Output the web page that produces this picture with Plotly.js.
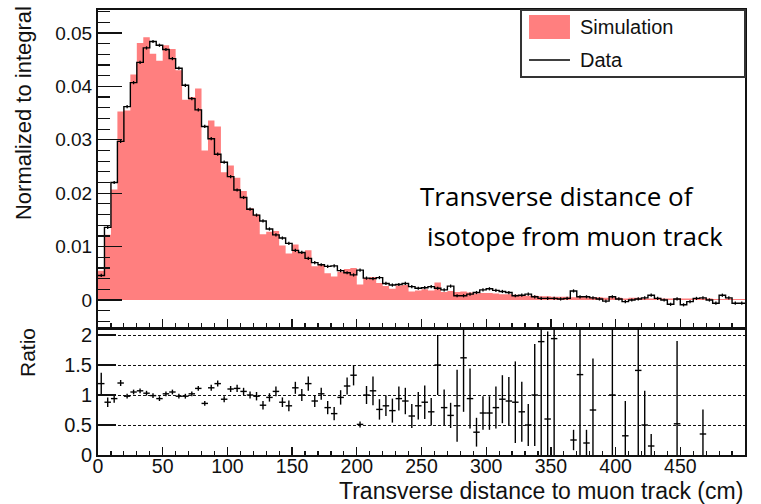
<!DOCTYPE html>
<html>
<head>
<meta charset="utf-8">
<script src="https://cdn.plot.ly/plotly-3.0.1.min.js"></script>
<style>
  html, body { margin: 0; padding: 0; background: #fff; }
  #chart { width: 761px; height: 504px; }
</style>
</head>
<body>
<div id="chart"></div>
<script>
// ---- data (5 cm bins from 0 to 500 cm) ----
const BIN_WIDTH = 5;

const simulation = [
  0.0055, 0.0122, 0.0207, 0.0353, 0.0355, 0.0422, 0.0481, 0.0492, 0.0461, 0.0448,
  0.0477, 0.0470, 0.0430, 0.0375, 0.0380, 0.0396, 0.0280, 0.0336, 0.0325, 0.0239,
  0.0252, 0.0229, 0.0204, 0.0172, 0.0160, 0.0123, 0.0128, 0.0129, 0.0102, 0.0087,
  0.0104, 0.0089, 0.0093, 0.0063, 0.0067, 0.0050, 0.0044, 0.0053, 0.0058, 0.0060,
  0.0029, 0.0041, 0.0043, 0.0032, 0.0026, 0.0021, 0.0027, 0.0028, 0.0016, 0.0018,
  0.0020, 0.0018, 0.0033, 0.0015, 0.0017, 0.0015, 0.0016, 0.0014, 0.0012, 0.0013,
  0.0013, 0.0012, 0.0011, 0.0011, 0.0010, 0.0009, 0.0008, 0.0008, 0.0007, 0.0007,
  0.0006, 0.0006, 0.0006, 0.0005, 0.0006, 0.0005, 0.0005, 0.0005, 0.0004, 0.0005,
  0.0004, 0.0003, 0.0004, 0.0004, 0.0003, 0.0003, 0.0004, 0.0003, 0.0003, 0.0003,
  0.0003, 0.0003, 0.0002, 0.0003, 0.0003, 0.0002, 0.0002, 0.0003, 0.0002, 0.0002
];

const dataValues = [
  0.0046, 0.0136, 0.0220, 0.0297, 0.0362, 0.0407, 0.0445, 0.0472, 0.0484, 0.0477,
  0.0469, 0.0452, 0.0434, 0.0402, 0.0377, 0.0356, 0.0325, 0.0302, 0.0273, 0.0258,
  0.0231, 0.0206, 0.0192, 0.0170, 0.0159, 0.0148, 0.0133, 0.0122, 0.0116, 0.0106,
  0.0093, 0.0089, 0.0078, 0.0070, 0.0066, 0.0063, 0.0064, 0.0055, 0.0051, 0.0047,
  0.0056, 0.0041, 0.0040, 0.0042, 0.0031, 0.0028, 0.0029, 0.0031, 0.0025, 0.0022,
  0.0023, 0.0025, 0.0022, 0.0019, 0.0026, 0.0008, 0.0008, 0.0011, 0.0014, 0.0019,
  0.0021, 0.0018, 0.0016, 0.0014, 0.0008, 0.0009, 0.0011, 0.0006, 0.0003, 0.0003,
  0.0003, 0.0002, 0.0003, 0.0017, 0.0006, 0.0006, 0.0004, 0.0002, -0.0002, 0.0006,
  0.0002, -0.0003, 0.0000, 0.0002, 0.0004, 0.0009, 0.0003, 0.0000, -0.0008, 0.0002,
  -0.0009, -0.0003, 0.0003, 0.0004, 0.0000, -0.0006, 0.0009, 0.0004, -0.0006, -0.0006
];
const dataError = 0.0003;

const ratio = [
  1.19, 0.88, 0.94, 1.20, 0.98, 1.05, 1.07, 1.03, 0.99, 0.94,
  1.02, 1.05, 0.98, 0.98, 1.02, 1.11, 0.86, 1.12, 1.19, 0.93,
  1.10, 1.11, 1.06, 1.00, 0.98, 0.83, 0.96, 1.06, 0.88, 0.82,
  1.12, 1.00, 1.19, 0.90, 1.02, 0.79, 0.69, 0.96, 1.15, 1.33,
  0.51, 1.00, 1.07, 0.76, 0.82, 0.74, 0.94, 0.90, 0.65, 0.82,
  0.88, 0.72, 1.50, 0.79, 0.66, 0.82, 1.62, 0.94, 0.38, 0.70,
  0.70, 0.79, 0.93, 0.90, 0.88, 0.72, 0.50, 1.00, 1.89, 0.60,
  1.94, null, null, 0.25, 1.34, 0.20, 0.75, null, null, 1.00,
  null, 0.32, null, 1.41, 0.50, 0.15, null, null, null, 0.52,
  null, null, null, 0.35, null, null, null, null, null, null
];
const ratioError = [
  0.18, 0.08, 0.07, 0.05, 0.04, 0.04, 0.04, 0.04, 0.04, 0.04,
  0.04, 0.04, 0.04, 0.04, 0.04, 0.04, 0.04, 0.05, 0.05, 0.05,
  0.05, 0.06, 0.06, 0.06, 0.07, 0.07, 0.07, 0.08, 0.08, 0.09,
  0.10, 0.10, 0.12, 0.10, 0.10, 0.11, 0.11, 0.12, 0.14, 0.17,
  0.05, 0.15, 0.24, 0.17, 0.17, 0.20, 0.20, 0.22, 0.20, 0.23,
  0.28, 0.23, 0.50, 0.30, 0.21, 0.60, 0.90, 0.50, 0.24, 0.28,
  0.28, 0.35, 0.40, 0.40, 0.68, 0.50, 0.35, 0.85, 2.00, 1.46,
  2.00, 0, 0, 0.17, 1.40, 0.22, 0.86, 0, 0, 1.30,
  0, 0.58, 0, 1.50, 0.57, 0.20, 0, 0, 0, 1.38,
  0, 0, 0, 0.41, 0, 0, 0, 0, 0, 0
];

const xTickLabels = ['0','50','100','150','200','250','300','350','400','450','500'];
const ratioTickLabels = ['0','0.5','1','1.5','2'];

// ---- derived positions via bin index ----
const nBins = dataValues.length;
const edges = Array.from({length: nBins + 1}, (_, i) => i * BIN_WIDTH);
const centers = Array.from({length: nBins}, (_, i) => (i + 0.5) * BIN_WIDTH);
const simStep = simulation.concat([simulation[nBins - 1]]);
const dataStep = dataValues.concat([dataValues[nBins - 1]]);

const FONT = '"Liberation Sans", Arial, sans-serif';
const PINK = '#ff7f7f';
const NOMARK = { size: 1, color: 'rgba(0,0,0,0)', line: { width: 0 } };

const traces = [
  { type: 'scatter', x: edges, y: simStep, mode: 'lines',
    line: { shape: 'hv', width: 0, color: PINK },
    fill: 'tozeroy', fillcolor: PINK, xaxis: 'x', yaxis: 'y',
    name: 'Simulation', hoverinfo: 'skip' },
  { type: 'scatter', x: edges, y: dataStep, mode: 'lines',
    line: { shape: 'hv', width: 1.4, color: '#000' },
    xaxis: 'x', yaxis: 'y', name: 'Data', hoverinfo: 'skip' },
  { type: 'scatter', x: centers, y: dataValues, mode: 'markers',
    marker: NOMARK,
    error_y: { type: 'constant', value: dataError, width: 0, thickness: 1.3, color: '#000' },
    xaxis: 'x', yaxis: 'y', hoverinfo: 'skip' },
  { type: 'scatter', x: centers, y: ratio, mode: 'markers',
    marker: NOMARK,
    error_y: { type: 'data', array: ratioError, visible: true, width: 0, thickness: 1.4, color: '#000' },
    error_x: { type: 'constant', value: BIN_WIDTH / 2, width: 0, thickness: 1.4, color: '#000' },
    xaxis: 'x2', yaxis: 'y2', hoverinfo: 'skip' }
];

const xTickVals = xTickLabels.map(Number);
const ratioTickVals = ratioTickLabels.map(Number);

const axisCommon = {
  showline: true, mirror: true, linewidth: 2, linecolor: '#111',
  zeroline: false, ticks: 'inside', tickcolor: '#111', tickwidth: 1.3,
  tickfont: { family: FONT, size: 19, color: '#111' }
};

const layout = {
  width: 761, height: 504,
  margin: { l: 98, r: 16, t: 10, b: 49 },
  paper_bgcolor: '#fff', plot_bgcolor: '#fff',
  showlegend: false,
  xaxis: Object.assign({}, axisCommon, {
    domain: [0, 1], anchor: 'y', range: [0, 500],
    tickvals: xTickVals, showticklabels: false, ticklen: 9,
    minor: { ticks: 'inside', ticklen: 5, dtick: 10, tick0: 0, tickcolor: '#111', tickwidth: 1.2 },
    showgrid: false
  }),
  yaxis: Object.assign({}, axisCommon, {
    domain: [0.2854, 1], anchor: 'x', range: [-0.00524, 0.0543],
    tick0: 0, dtick: 0.01, ticklen: 24,
    minor: { ticks: 'inside', ticklen: 12, dtick: 0.002, tick0: 0, tickcolor: '#111', tickwidth: 1.2 },
    showgrid: false
  }),
  xaxis2: Object.assign({}, axisCommon, {
    domain: [0, 1], anchor: 'y2', range: [0, 500],
    tickvals: xTickVals, ticktext: xTickLabels, ticklen: 8,
    ticklabelstandoff: -7,
    minor: { ticks: 'inside', ticklen: 4, dtick: 10, tick0: 0, tickcolor: '#111', tickwidth: 1.2 },
    showgrid: false, tickfont: { family: FONT, size: 19.5, color: '#111' }
  }),
  yaxis2: Object.assign({}, axisCommon, {
    domain: [0, 0.2831], anchor: 'x2', range: [0, 2.1],
    tickvals: ratioTickVals, ticktext: ratioTickLabels, ticklen: 18,
    showgrid: true, gridcolor: '#111', gridwidth: 1, griddash: '3px,2px',
    tickfont: { family: FONT, size: 20, color: '#111' }
  }),
  shapes: [
    // legend box
    { type: 'rect', xref: 'paper', yref: 'paper', x0: 0.6538, x1: 1.0, y0: 0.8494, y1: 1.0,
      line: { color: '#333', width: 2 }, fillcolor: '#fff', layer: 'above' },
    { type: 'rect', xref: 'paper', yref: 'paper', x0: 0.6662, x1: 0.7295, y0: 0.9348, y1: 0.9888,
      line: { width: 0 }, fillcolor: PINK, layer: 'above' },
    { type: 'line', xref: 'paper', yref: 'paper', x0: 0.6662, x1: 0.7295, y0: 0.8876, y1: 0.8876,
      line: { color: '#000', width: 1.4 }, layer: 'above' }
  ],
  annotations: [
    { xref: 'paper', yref: 'paper', x: 0.7419, y: 0.9618, xanchor: 'left', yanchor: 'middle',
      text: 'Simulation', showarrow: false, font: { family: FONT, size: 20, color: '#111' } },
    { xref: 'paper', yref: 'paper', x: 0.7419, y: 0.8876, xanchor: 'left', yanchor: 'middle',
      text: 'Data', showarrow: false, font: { family: FONT, size: 20, color: '#111' } },
    { xref: 'paper', yref: 'paper', x: 1.0, y: -0.0798, xanchor: 'right', yanchor: 'middle',
      text: 'Transverse distance to muon track (cm)', showarrow: false,
      font: { family: FONT, size: 23, color: '#111' } },
    { xref: 'paper', yref: 'paper', x: -0.1159, y: 0.7685, xanchor: 'center', yanchor: 'middle',
      textangle: -90, text: 'Normalized to integral', showarrow: false,
      font: { family: FONT, size: 22, color: '#111' } },
    { xref: 'paper', yref: 'paper', x: -0.1082, y: 0.2315, xanchor: 'center', yanchor: 'middle',
      textangle: -90, text: 'Ratio', showarrow: false,
      font: { family: FONT, size: 21, color: '#111' } },
    { xref: 'paper', yref: 'paper', x: 0.4946, y: 0.582, xanchor: 'left', yanchor: 'middle',
      text: 'Transverse distance of', showarrow: false,
      font: { family: '"Open Sans", "Noto Sans", sans-serif', size: 26, color: '#000' } },
    { xref: 'paper', yref: 'paper', x: 0.5054, y: 0.4921, xanchor: 'left', yanchor: 'middle',
      text: 'isotope from muon track', showarrow: false,
      font: { family: '"Open Sans", "Noto Sans", sans-serif', size: 25.5, color: '#000' } }
  ]
};

Plotly.newPlot('chart', traces, layout, { staticPlot: true, displayModeBar: false });
</script>
</body>
</html>
